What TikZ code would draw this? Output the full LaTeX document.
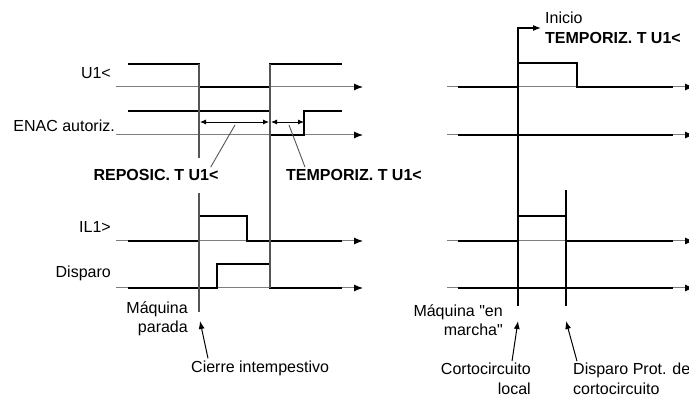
\documentclass[tikz,border=0pt]{standalone}
\usepackage{fontspec}
\setmainfont{Liberation Sans}[Ligatures=TeXOff]
\usetikzlibrary{arrows.meta,positioning}
\definecolor{axisgray}{RGB}{125,125,125}
\definecolor{markgray}{RGB}{85,85,85}

\tikzset{
  axis/.style={axisgray, line width=1pt, -{Latex[length=9pt,width=7pt,black]}},
  signal/.style={line width=2.6pt, line join=miter},
  marker/.style={markgray, line width=1.2pt},
  span/.style={line width=0.9pt, {Latex[length=6pt,width=5pt]}-{Latex[length=6pt,width=5pt]}},
  leader/.style={line width=0.9pt, markgray},
  pointer/.style={line width=1pt, -{Latex[length=8pt,width=6pt]}},
  lbl/.style={font=\fontsize{16}{19.5}\selectfont, inner sep=2pt},
  blbl/.style={font=\fontsize{16}{19.5}\selectfont\bfseries, inner sep=2pt},
}

\begin{document}
\begin{tikzpicture}[x=1pt,y=-1pt]
            \useasboundingbox (0,0) rectangle (689,398);

            % Time axes, left
            \draw[axis] (116,87) -- (363,87);
            \draw[axis] (116,135) -- (363,135);
            \draw[axis] (116,241) -- (363,241);
            \draw[axis] (116,288) -- (363,288);

            % Signals, left
            \draw[signal] (128,64) -- (199,64) -- (199,87) -- (270,87) -- (270,64) -- (342,64);
            \draw[signal] (128,111) -- (270,111) -- (270,135) -- (304,135) -- (304,111) -- (342,111);
            \draw[signal] (128,241) -- (199,241) -- (199,216) -- (247,216) -- (247,241) -- (342,241);
            \draw[signal] (128,288) -- (217,288) -- (217,264) -- (270,264) -- (270,288) -- (342,288);

            % Event markers, left
            \draw[marker] (199,64) -- (199,158);
            \draw[marker] (199,193) -- (199,312);
            \draw[marker] (270,64) -- (270,288);

            % Times
            \draw[span] (200,122) -- (269,122);
            \draw[span] (271,122) -- (304,122);

            % Labels, left
            \node[lbl, anchor=east] (u1) at (113,73) {U1<};
            \node[lbl, anchor=east] (enac) at (117,126) {ENAC autoriz.};
            \node[lbl, anchor=east] (il1) at (113,227) {IL1>};
            \node[lbl, anchor=east] (disp) at (113,273) {Disparo};

            \node[blbl] (reposic) at (156,175) {REPOSIC. T U1<};
            \node[blbl] (temporiz) at (354,175) {TEMPORIZ. T U1<};
            \draw[leader] ([xshift=-10pt]reposic.north east) -- (235,125);
            \draw[leader] ([xshift=21pt]temporiz.north west) -- (289,125);

            \node[lbl, anchor=east, align=right] (parada) at (190,319) {Máquina\\parada};
            \node[lbl, anchor=west] (cierre) at (189,368) {Cierre intempestivo};
            \coordinate (closeat) at (200,321);
            \draw[pointer] ([xshift=19pt]cierre.north west) -- (closeat);

            % Time axes, right
            \draw[axis] (447,87) -- (694,87);
            \draw[axis] (447,135) -- (694,135);
            \draw[axis] (447,241) -- (694,241);
            \draw[axis] (447,288) -- (694,288);

            % Signals, right
            \draw[signal] (458,87) -- (518,87) -- (518,63) -- (577,63) -- (577,87) -- (673,87);
            \draw[signal] (458,135) -- (673,135);
            \draw[signal] (458,241) -- (518,241) -- (518,216) -- (566,216) -- (566,241) -- (673,241);
            \draw[signal] (458,288) -- (673,288);

            % Event markers, right
            \node[lbl, anchor=west] (inicio) at (543,18) {Inicio};
            \node[blbl, anchor=west] (tstart) at (543,38) {TEMPORIZ. T U1<};
            \draw[pointer, line width=1.1pt] (518,306) -- (518,28) -- ([xshift=-2pt]tstart.north west |- 0,28);
            \draw[line width=1.1pt] (566,190) -- (566,306);

            % Labels, right
            \node[lbl, anchor=east, align=right] (marcha) at (505,320) {Máquina "en\\marcha"};
            \node[lbl, anchor=east, align=right] (corto) at (533,379) {Cortocircuito\\local};
            \node[lbl, anchor=west, align=left] (dprot) at (571,379) {Disparo Prot. de\\cortocircuito};
            \coordinate (shortat) at (518,321);
            \coordinate (tripat) at (566,321);
            \draw[pointer] ([xshift=-21pt]corto.north east) -- (shortat);
            \draw[pointer] ([xshift=6pt]dprot.north west) -- (tripat);
        \end{tikzpicture}
\end{document}
